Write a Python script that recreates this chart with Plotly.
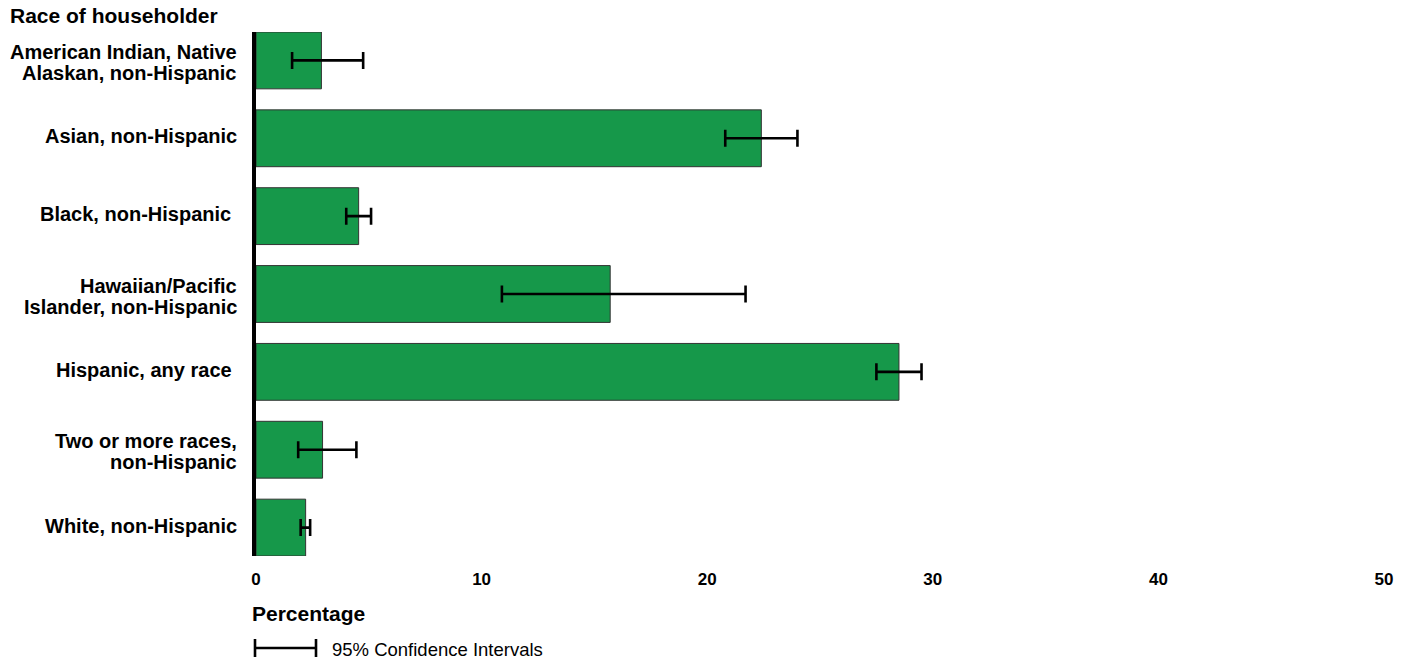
import plotly.graph_objects as go

categories = [
    "American Indian, Native<br>Alaskan, non-Hispanic",
    "Asian, non-Hispanic",
    "Black, non-Hispanic\u00a0",
    "Hawaiian/Pacific<br>Islander, non-Hispanic",
    "Hispanic, any race\u00a0",
    "Two or more races,<br>non-Hispanic",
    "White, non-Hispanic",
]
values = [2.9, 22.4, 4.55, 15.7, 28.5, 2.95, 2.2]
ci_lower = [1.6, 20.8, 4.0, 10.9, 27.5, 1.87, 1.98]
ci_upper = [4.75, 24.0, 5.1, 21.7, 29.5, 4.45, 2.4]
x_ticks = [0, 10, 20, 30, 40, 50]

FONT = "Arial, Liberation Sans, sans-serif"
PW, PH = 1128, 524  # plot area size in px

err_plus = [u - v for u, v in zip(ci_upper, values)]
err_minus = [v - l for v, l in zip(values, ci_lower)]

fig = go.Figure(
    go.Bar(
        x=values,
        y=categories,
        orientation="h",
        marker=dict(color="#16984A", line=dict(color="#333333", width=1)),
        error_x=dict(
            type="data",
            symmetric=False,
            array=err_plus,
            arrayminus=err_minus,
            color="black",
            thickness=2.6,
            width=8.5,
        ),
        hoverinfo="skip",
    )
)

# category labels drawn line by line for tight line spacing
annotations = []
for cat in categories:
    lines = cat.split("<br>")
    n = len(lines)
    base = -2 if n > 1 else 2
    for i, line in enumerate(lines):
        shift = (n - 1) / 2 * 21 - i * 21
        annotations.append(dict(
            text="<b>" + line + "</b>",
            xref="paper", yref="y", x=0, y=cat,
            xanchor="right", yanchor="middle", showarrow=False,
            xshift=-17, yshift=shift + base,
            font=dict(family=FONT, size=20, color="black"),
        ))

annotations += [
    dict(
        text="<b>Race of householder</b>",
        xref="paper", yref="paper", x=(8 - 256) / PW, y=1 + 16 / PH,
        xanchor="left", yanchor="middle", showarrow=False,
        font=dict(family=FONT, size=21, color="black"),
    ),
    dict(
        text="<b>Percentage</b>",
        xref="paper", yref="paper", x=(250 - 256) / PW, y=-57 / PH,
        xanchor="left", yanchor="middle", showarrow=False,
        font=dict(family=FONT, size=21, color="black"),
    ),
    dict(
        text="95% Confidence Intervals",
        xref="paper", yref="paper", x=(330 - 256) / PW, y=-93 / PH,
        xanchor="left", yanchor="middle", showarrow=False,
        font=dict(family=FONT, size=18.5, color="black"),
    ),
]

fig.update_layout(
    width=1408,
    height=663,
    margin=dict(l=256, r=24, t=32, b=107),
    plot_bgcolor="white",
    paper_bgcolor="white",
    bargap=0.27,
    showlegend=False,
    font=dict(family=FONT, color="black"),
    xaxis=dict(
        range=[0, 50],
        tickvals=x_ticks,
        showgrid=False,
        zeroline=False,
        showline=False,
        ticks="",
        tickfont=dict(family=FONT, size=17, color="black", weight="bold"),
        ticklabelstandoff=11,
        fixedrange=True,
    ),
    yaxis=dict(
        type="category",
        categoryorder="array",
        categoryarray=categories,
        range=[6.365, -0.365],
        showgrid=False,
        zeroline=False,
        showline=True,
        linecolor="black",
        linewidth=4,
        ticks="",
        showticklabels=False,
        fixedrange=True,
    ),
    annotations=annotations,
    shapes=[
        dict(type="line", xref="paper", yref="paper",
             x0=-1 / PW, x1=60 / PW, y0=-92 / PH, y1=-92 / PH,
             line=dict(color="black", width=2.6)),
        dict(type="line", xref="paper", yref="paper",
             x0=-1 / PW, x1=-1 / PW, y0=-83 / PH, y1=-101 / PH,
             line=dict(color="black", width=2.6)),
        dict(type="line", xref="paper", yref="paper",
             x0=60 / PW, x1=60 / PW, y0=-83 / PH, y1=-101 / PH,
             line=dict(color="black", width=2.6)),
    ],
)

fig.write_html(
    "out.html",
    config={"displayModeBar": False},
    post_script="document.body.style.margin='0';document.body.style.overflow='hidden';",
)
